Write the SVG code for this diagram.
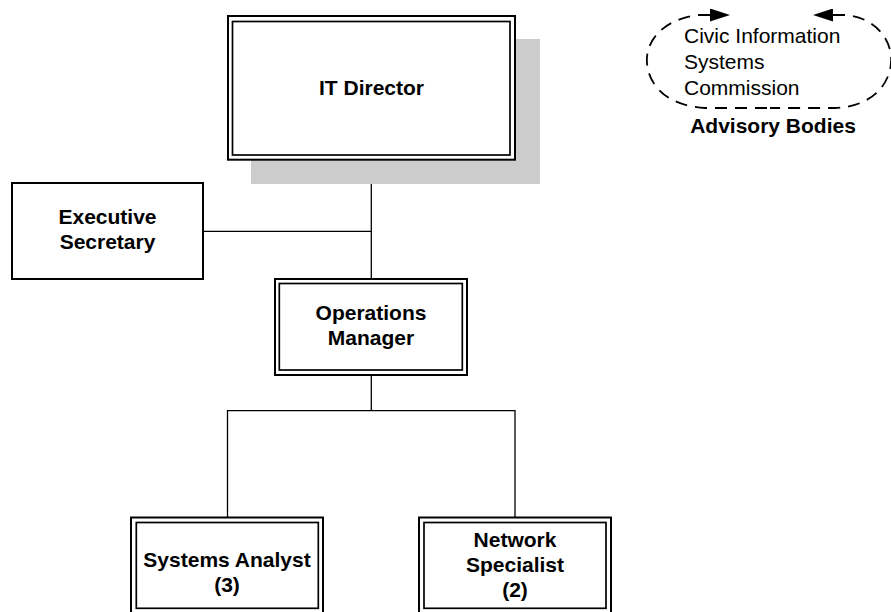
<svg xmlns="http://www.w3.org/2000/svg" width="891" height="612" viewBox="0 0 891 612">
  <style>
    .box { fill: #ffffff; stroke: #000000; stroke-width: 2; }
    .inner { fill: none; stroke: #000000; stroke-width: 1.7; }
    .lbl { font-family: "Liberation Sans", Arial, sans-serif; font-size: 21px; font-weight: bold; fill: #000000; text-anchor: middle; }
    .plain { font-family: "Liberation Sans", Arial, sans-serif; font-size: 21px; fill: #000000; }
    .conn { stroke: #000000; stroke-width: 1.3; fill: none; }
    .dash { stroke: #000000; stroke-width: 1.8; fill: none; stroke-dasharray: 12 8; }
  </style>
  <defs>
    <marker id="arrow" viewBox="0 0 20 13" refX="0" refY="6.5" markerWidth="20" markerHeight="13" markerUnits="userSpaceOnUse" orient="auto-start-reverse">
      <path d="M20,6.5 L0,0 L0,13 Z" fill="#000000"/>
    </marker>
  </defs>

  <g id="connectors">
    <line class="conn" x1="371.3" y1="160" x2="371.3" y2="279"/>
    <line class="conn" x1="203" y1="231.3" x2="371.3" y2="231.3"/>
    <line class="conn" x1="371.3" y1="375" x2="371.3" y2="410.7"/>
    <polyline class="conn" points="227.5,517.5 227.5,410.7 515,410.7 515,517.5"/>
  </g>

  <g id="it-director">
    <rect x="251" y="39" width="289" height="145" fill="#cccccc"/>
    <rect class="box" x="228" y="16" width="287" height="143.7"/>
    <rect class="inner" x="232.5" y="21.5" width="277.5" height="133.5"/>
    <text class="lbl" x="371.5" y="95">IT Director</text>
  </g>

  <g id="executive-secretary">
    <rect class="box" x="12" y="183" width="191" height="96"/>
    <text class="lbl" x="107.5" y="224">Executive</text>
    <text class="lbl" x="107.5" y="249">Secretary</text>
  </g>

  <g id="operations-manager">
    <rect class="box" x="275" y="279" width="192" height="96"/>
    <rect class="inner" x="279.3" y="283.5" width="183" height="86.5"/>
    <text class="lbl" x="371" y="320">Operations</text>
    <text class="lbl" x="371" y="345">Manager</text>
  </g>

  <g id="systems-analyst">
    <rect class="box" x="131" y="517.5" width="192" height="96"/>
    <rect class="inner" x="136.3" y="522.5" width="182" height="85.8"/>
    <text class="lbl" x="227" y="567">Systems Analyst</text>
    <text class="lbl" x="227" y="592">(3)</text>
  </g>

  <g id="network-specialist">
    <rect class="box" x="419" y="517.5" width="192" height="96"/>
    <rect class="inner" x="424" y="522.5" width="182" height="85.8"/>
    <text class="lbl" x="515" y="547">Network</text>
    <text class="lbl" x="515" y="572">Specialist</text>
    <text class="lbl" x="515" y="597">(2)</text>
  </g>

  <g id="advisory-bodies">
    <path class="dash" d="M710,15 L700,15 C665,18 645,40 647,63 C649,88 670,106 705,108 L770,108" marker-start="url(#arrow)"/>
    <path class="dash" d="M833,15 L845,15 C875,17 893,40 891,63 C889,88 868,107 835,108 L770,108" marker-start="url(#arrow)"/>
    <text class="plain" x="684" y="43">Civic Information</text>
    <text class="plain" x="684" y="69">Systems</text>
    <text class="plain" x="684" y="95">Commission</text>
    <text class="lbl" x="773" y="133">Advisory Bodies</text>
  </g>
</svg>
